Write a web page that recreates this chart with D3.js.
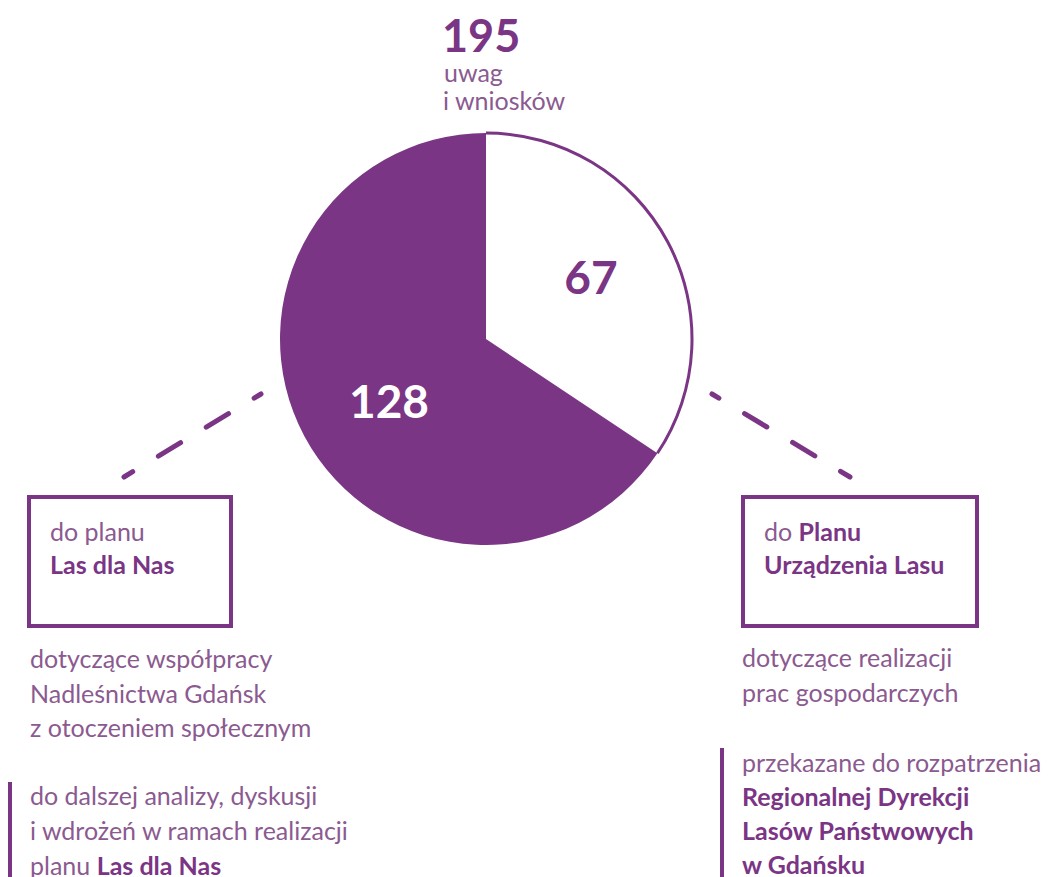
<!DOCTYPE html>
<html>
<head>
<meta charset="utf-8">
<script src="https://cdn.jsdelivr.net/npm/d3@7"></script>
<style>
  body { margin: 0; background: #fff; }
  svg { display: block; font-family: Lato, "Open Sans", sans-serif; }
</style>
</head>
<body>
<svg id="chart" width="1055" height="877"></svg>
<script>
// data
const categories = ["Plan Urządzenia Lasu", "Las dla Nas"];
const values = [67, 128];
const total = d3.sum(values);

const leftLines = [
    [{t: "dotyczące współpracy"}],
    [{t: "Nadleśnictwa Gdańsk"}],
    [{t: "z otoczeniem społecznym"}]
];
const leftNote = [
    [{t: "do dalszej analizy, dyskusji"}],
    [{t: "i wdrożeń w ramach realizacji"}],
    [{t: "planu "}, {t: "Las dla Nas", b: true}]
];
const rightLines = [
    [{t: "dotyczące realizacji"}],
    [{t: "prac gospodarczych"}]
];
const rightNote = [
    [{t: "przekazane do rozpatrzenia"}],
    [{t: "Regionalnej Dyrekcji", b: true}],
    [{t: "Lasów Państwowych", b: true}],
    [{t: "w Gdańsku", b: true}]
];

const purple = "#7b3585";
const textCol = "#8b5a90";

const svg = d3.select("#chart");
const cx = 486, cy = 339, r = 206;

const pie = d3.pie().sort(null).value(d => d);
const arcs = pie(values);
const arc = d3.arc().innerRadius(0).outerRadius(r);

const g = svg.append("g").attr("transform", `translate(${cx},${cy})`);

g.selectAll("path")
    .data(arcs)
    .join("path")
    .attr("d", arc)
    .attr("fill", (d, i) => i === 0 ? "#fff" : purple);

// outline only on the white slice arc
g.append("path")
    .attr("d", d3.arc().innerRadius(r - 1.5).outerRadius(r + 1.5)
        .startAngle(arcs[0].startAngle).endAngle(arcs[0].endAngle)())
    .attr("fill", purple);

g.selectAll("text.val")
    .data(arcs)
    .join("text")
    .attr("class", "val")
    .attr("x", (d, i) => i === 0 ? 105 : -97)
    .attr("y", (d, i) => i === 0 ? -45 : 79)
    .attr("text-anchor", "middle")
    .attr("font-size", 46)
    .attr("font-weight", 700)
    .attr("fill", (d, i) => i === 0 ? purple : "#fff")
    .text(d => d.data);

// total
svg.append("text")
    .attr("x", 442).attr("y", 52)
    .attr("font-size", 45).attr("font-weight", 700)
    .attr("fill", purple)
    .text(total);
svg.append("text")
    .attr("x", 444).attr("y", 82)
    .attr("font-size", 25).attr("fill", textCol)
    .text("uwag");
svg.append("text")
    .attr("x", 443).attr("y", 110)
    .attr("font-size", 25).attr("fill", textCol)
    .text("i wniosków");

// dashed connectors
function dashed(x1, y1, x2, y2) {
    svg.append("line")
        .attr("x1", x1).attr("y1", y1).attr("x2", x2).attr("y2", y2)
        .attr("stroke", purple)
        .attr("stroke-width", 5)
        .attr("stroke-linecap", "round")
        .attr("stroke-dasharray", "26 30")
        .attr("stroke-dashoffset", 18);
}
dashed(261, 394, 124, 477);
dashed(712, 394, 850, 477);

// boxes
function box(x, y, w, h, lines) {
    svg.append("rect")
        .attr("x", x).attr("y", y).attr("width", w).attr("height", h)
        .attr("fill", "none").attr("stroke", purple).attr("stroke-width", 4);
    block(x + 21, y + 44, 33, lines, 25);
}

function block(x, y, lh, lines, size) {
    const t = svg.append("text")
        .attr("font-size", size)
        .attr("fill", textCol);
    lines.forEach((parts, i) => {
        parts.forEach((p, j) => {
            const s = t.append("tspan").text(p.t);
            if (j === 0) s.attr("x", x).attr("y", y + i * lh);
            if (p.b) s.attr("font-weight", 700).attr("fill", purple);
        });
    });
}

box(29, 497, 202, 129, [[{t: "do planu"}], [{t: "Las dla Nas", b: true}]]);
box(743, 497, 234, 129, [[{t: "do "}, {t: "Planu", b: true}], [{t: "Urządzenia Lasu", b: true}]]);

block(30, 668, 34.5, leftLines, 25);
block(30, 805, 35, leftNote, 25);
block(742, 667, 35, rightLines, 25);
block(742, 772, 34, rightNote, 25);

// vertical accent bars
svg.append("rect").attr("x", 8).attr("y", 782).attr("width", 4).attr("height", 100).attr("fill", purple);
svg.append("rect").attr("x", 720).attr("y", 748).attr("width", 4).attr("height", 140).attr("fill", purple);
</script>
</body>
</html>
